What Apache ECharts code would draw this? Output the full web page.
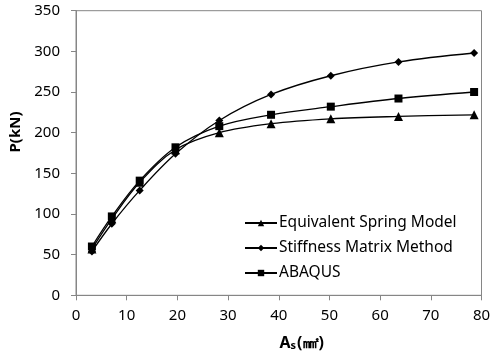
<!DOCTYPE html>
<html><head><meta charset="utf-8">
<script src="https://cdn.jsdelivr.net/npm/echarts@6/dist/echarts.min.js"></script>
<style>html,body{margin:0;padding:0;background:#fff}#c{width:500px;height:359px}</style>
</head><body><div id="c"></div>
<script>
var areas = [3.14, 7.07, 12.57, 19.63, 28.27, 38.48, 50.27, 63.62, 78.54];
var springModel = [57, 94, 139, 179, 200, 211, 217, 220, 222];
var stiffnessMatrix = [54, 88, 129, 174, 215, 247, 270, 287, 298];
var abaqus = [60, 97, 141, 182, 208, 222, 232, 242, 250];
var seriesNames = ['Equivalent Spring Model', 'Stiffness Matrix Method', 'ABAQUS'];
var xTicks = [0, 10, 20, 30, 40, 50, 60, 70, 80];
var yTicks = [0, 50, 100, 150, 200, 250, 300, 350];

function pairs(ys){ return areas.map(function(x,i){ return [x, ys[i]]; }); }
var font = 'Noto Sans';
var chart = echarts.init(document.getElementById('c'), null, {renderer:'canvas'});
function mk(name, ys, sym, size){
  return {name:name, type:'line', data:pairs(ys), smooth:0.35, symbol:sym, symbolSize:size,
    lineStyle:{color:'#000', width:1.3}, itemStyle:{color:'#000'}, z:3};
}
chart.setOption({
  animation:false,
  grid:{left:75, right:18.5, top:10.7, bottom:63.7, show:true, borderColor:'#868686', borderWidth:1},
  legend:{data:seriesNames, orient:'vertical', left:244, top:214, padding:0, itemWidth:32, itemHeight:8, itemGap:7,
    textStyle:{fontFamily:font, fontSize:15.5, lineHeight:18, color:'#000', padding:[0,0,0,-3]}},
  xAxis:{type:'value', min:xTicks[0], max:xTicks[xTicks.length-1], interval:10,
    axisLine:{lineStyle:{color:'#868686'}}, axisTick:{show:true, length:5, lineStyle:{color:'#868686'}},
    splitLine:{show:false},
    axisLabel:{fontFamily:font, fontSize:15, color:'#000', margin:13},
    name:'{a|A}{s|s}{a|(㎟)}', nameLocation:'middle', nameGap:40,
    nameTextStyle:{padding:[0,0,0,46], rich:{a:{fontFamily:font, fontSize:16, fontWeight:'bold', color:'#000'},
      s:{fontFamily:font, fontSize:11, fontWeight:'bold', color:'#000', verticalAlign:'bottom', padding:[5,1,0,0]}}}},
  yAxis:{type:'value', min:yTicks[0], max:yTicks[yTicks.length-1], interval:50,
    axisLine:{show:true, lineStyle:{color:'#868686'}}, axisTick:{show:true, length:5, lineStyle:{color:'#868686'}},
    splitLine:{show:false},
    axisLabel:{fontFamily:font, fontSize:15, color:'#000', margin:16},
    name:'P(kN)', nameLocation:'middle', nameGap:53, nameRotate:90,
    nameTextStyle:{fontFamily:font, fontSize:15, fontWeight:'bold', color:'#000', padding:[0,0,0,42]}},
  series:[
    mk(seriesNames[0], springModel, 'triangle', 9),
    mk(seriesNames[1], stiffnessMatrix, 'diamond', 8),
    mk(seriesNames[2], abaqus, 'rect', 8)
  ]
});
</script></body></html>
